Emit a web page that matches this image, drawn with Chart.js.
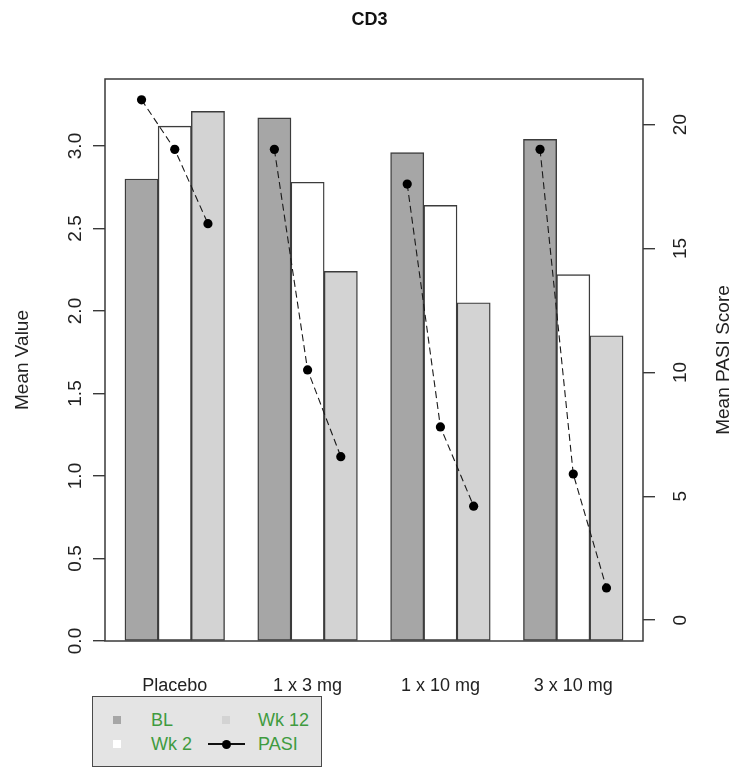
<!DOCTYPE html>
<html><head><meta charset="utf-8">
<script src="https://cdn.jsdelivr.net/npm/chart.js@4"></script>
<style>
html,body{margin:0;padding:0;background:#fff;}
#wrap{position:relative;width:739px;height:769px;overflow:hidden;}
#c{position:absolute;left:0;top:0;}
#legend{position:absolute;left:92px;top:696px;width:230px;height:71px;background:#e4e4e4;border:1.5px solid #4a4a4a;box-sizing:border-box;font-family:"Liberation Sans",Arial,sans-serif;font-size:18px;color:#3f9b3f;}
#legend .it{position:absolute;line-height:20px;white-space:nowrap;}
#legend .sq{position:absolute;width:8px;height:8px;}
#legend .ln{position:absolute;height:1.5px;background:#111;}
#legend .dt{position:absolute;width:9px;height:9px;border-radius:50%;background:#000;}
</style>
</head><body>
<div id="wrap"><canvas id="c" width="739" height="769"></canvas><div id="legend"></div></div>
<script>
const categories = ['Placebo', '1 x 3 mg', '1 x 10 mg', '3 x 10 mg'];
const seriesNames = ['BL', 'Wk 2', 'Wk 12'];
const blValues   = [2.80, 3.17, 2.96, 3.04];
const wk2Values  = [3.12, 2.78, 2.64, 2.22];
const wk12Values = [3.21, 2.24, 2.05, 1.85];
const pasiName = 'PASI';
const pasiBL   = [21.0, 19.0, 17.6, 19.0];
const pasiWk2  = [19.0, 10.1, 7.8, 5.9];
const pasiWk12 = [16.0, 6.6, 4.6, 1.3];
const leftTicks  = [0, 0.5, 1.0, 1.5, 2.0, 2.5, 3.0];
const rightTicks = [0, 5, 10, 15, 20];

const FONT = '"Liberation Sans", Arial, sans-serif';
const barColors = ['#a6a6a6', '#ffffff', '#d3d3d3'];
const barSeries = [blValues, wk2Values, wk12Values];
const pasiSeries = [pasiBL, pasiWk2, pasiWk12];

// R barplot style positions: each group = 3 unit-wide bars, 1 unit gap before group
const slot = (g, s) => g * 4 + s + 1.5;
const groupCenter = g => g * 4 + 2.5;

const barDatasets = barSeries.map((vals, s) => ({
  type: 'bar',
  label: seriesNames[s],
  data: vals.map((v, g) => ({x: slot(g, s), y: v})),
  backgroundColor: barColors[s],
  borderColor: '#3c3c3c',
  borderWidth: 1.4,
  borderSkipped: false,
  grouped: false,
  categoryPercentage: 1,
  barPercentage: 1,
  xAxisID: 'x', yAxisID: 'y',
  order: 2
}));

const pasiData = [];
categories.forEach((c, g) => {
  pasiSeries.forEach((arr, s) => pasiData.push({x: slot(g, s), y: arr[g]}));
  pasiData.push({x: slot(g, 3), y: null});
});

const lineDataset = {
  type: 'line',
  label: pasiName,
  data: pasiData,
  borderColor: '#1a1a1a',
  borderWidth: 1.1,
  borderDash: [7, 4],
  pointRadius: 4.6,
  pointBackgroundColor: '#000',
  pointBorderWidth: 0,
  spanGaps: false,
  fill: false,
  xAxisID: 'x', yAxisID: 'y2',
  order: 1
};

const boxPlugin = {
  id: 'box',
  afterDatasetsDraw(chart) {
    const a = chart.chartArea, ctx = chart.ctx;
    ctx.save();
    ctx.strokeStyle = '#3a3a3a';
    ctx.lineWidth = 1.5;
    ctx.strokeRect(a.left, a.top, a.right - a.left, a.bottom - a.top);
    ctx.restore();
  }
};

const rightTitlePlugin = {
  id: 'rightTitle',
  afterDraw(chart) {
    const a = chart.chartArea, ctx = chart.ctx;
    ctx.save();
    ctx.font = '19px ' + FONT;
    ctx.fillStyle = '#222';
    ctx.textAlign = 'center';
    ctx.textBaseline = 'middle';
    ctx.translate(724, (a.top + a.bottom) / 2);
    ctx.rotate(-Math.PI / 2);
    ctx.fillText('Mean PASI Score', 0, 0);
    ctx.restore();
  }
};

const chart = new Chart(document.getElementById('c'), {
  type: 'bar',
  data: { datasets: [lineDataset, ...barDatasets] },
  options: {
    responsive: false,
    animation: false,
    devicePixelRatio: 1,
    layout: { padding: 0 },
    plugins: {
      legend: { display: false },
      tooltip: { enabled: false },
      title: {
        display: true, text: 'CD3', color: '#111',
        font: { family: FONT, size: 18, weight: 'bold' },
        padding: { top: 9, bottom: 48.4 }
      }
    },
    scales: {
      x: {
        type: 'linear', min: 0.4, max: 16.6, offset: false,
        grid: { display: false, drawTicks: false },
        border: { display: false },
        afterBuildTicks: sc => { sc.ticks = categories.map((c, g) => ({value: groupCenter(g)})); },
        afterFit: sc => { sc.height = 128; },
        ticks: {
          color: '#222', font: { family: FONT, size: 18 }, padding: 34,
          maxRotation: 0, minRotation: 0, autoSkip: false,
          callback: v => categories[Math.round((v - 2.5) / 4)]
        }
      },
      y: {
        type: 'linear', position: 'left', min: 0, max: 3.406,
        grid: { display: true, drawOnChartArea: false, tickLength: 12, color: '#3a3a3a', lineWidth: 1.4 },
        border: { display: false },
        afterBuildTicks: sc => { sc.ticks = leftTicks.map(v => ({value: v})); },
        afterFit: sc => { sc.width = 105; },
        ticks: {
          color: '#222', font: { family: FONT, size: 19 }, padding: 4,
          minRotation: 90, maxRotation: 90, crossAlign: 'center',
          callback: v => v.toFixed(1)
        },
        title: { display: true, text: 'Mean Value', color: '#222', font: { family: FONT, size: 19 }, padding: { top: 11, bottom: 0 } }
      },
      y2: {
        type: 'linear', position: 'right', min: -0.84, max: 21.84,
        grid: { display: true, drawOnChartArea: false, tickLength: 12, color: '#3a3a3a', lineWidth: 1.4 },
        border: { display: false },
        afterBuildTicks: sc => { sc.ticks = rightTicks.map(v => ({value: v})); },
        afterFit: sc => { sc.width = 96; },
        ticks: {
          color: '#222', font: { family: FONT, size: 19 }, padding: 15,
          minRotation: 90, maxRotation: 90, crossAlign: 'center',
          callback: v => String(v)
        }
      }
    }
  },
  plugins: [boxPlugin, rightTitlePlugin]
});

// HTML legend built from the chart's datasets
(function buildLegend() {
  const lg = document.getElementById('legend');
  const ds = chart.data.datasets;
  const byLabel = l => ds.find(d => d.label === l);
  const cells = [
    {label: seriesNames[0], col: 0, row: 0},
    {label: seriesNames[2], col: 1, row: 0},
    {label: seriesNames[1], col: 0, row: 1},
    {label: pasiName, col: 1, row: 1}
  ];
  const colSym = [20, 129], colTxt = [58, 165], rowY = [23, 47];
  cells.forEach(c => {
    const d = byLabel(c.label);
    const y = rowY[c.row];
    if (d.type === 'bar') {
      const sq = document.createElement('div');
      sq.className = 'sq';
      sq.style.left = colSym[c.col] + 'px';
      sq.style.top = (y - 4) + 'px';
      sq.style.background = d.backgroundColor;
      lg.appendChild(sq);
    } else {
      const ln = document.createElement('div');
      ln.className = 'ln';
      ln.style.left = '115px'; ln.style.width = '37px'; ln.style.top = (y - 1) + 'px';
      lg.appendChild(ln);
      const dt = document.createElement('div');
      dt.className = 'dt';
      dt.style.left = '129px'; dt.style.top = (y - 4.5) + 'px';
      lg.appendChild(dt);
    }
    const t = document.createElement('div');
    t.className = 'it';
    t.textContent = c.label;
    t.style.left = colTxt[c.col] + 'px';
    t.style.top = (y - 10) + 'px';
    lg.appendChild(t);
  });
})();
</script>
</body></html>
